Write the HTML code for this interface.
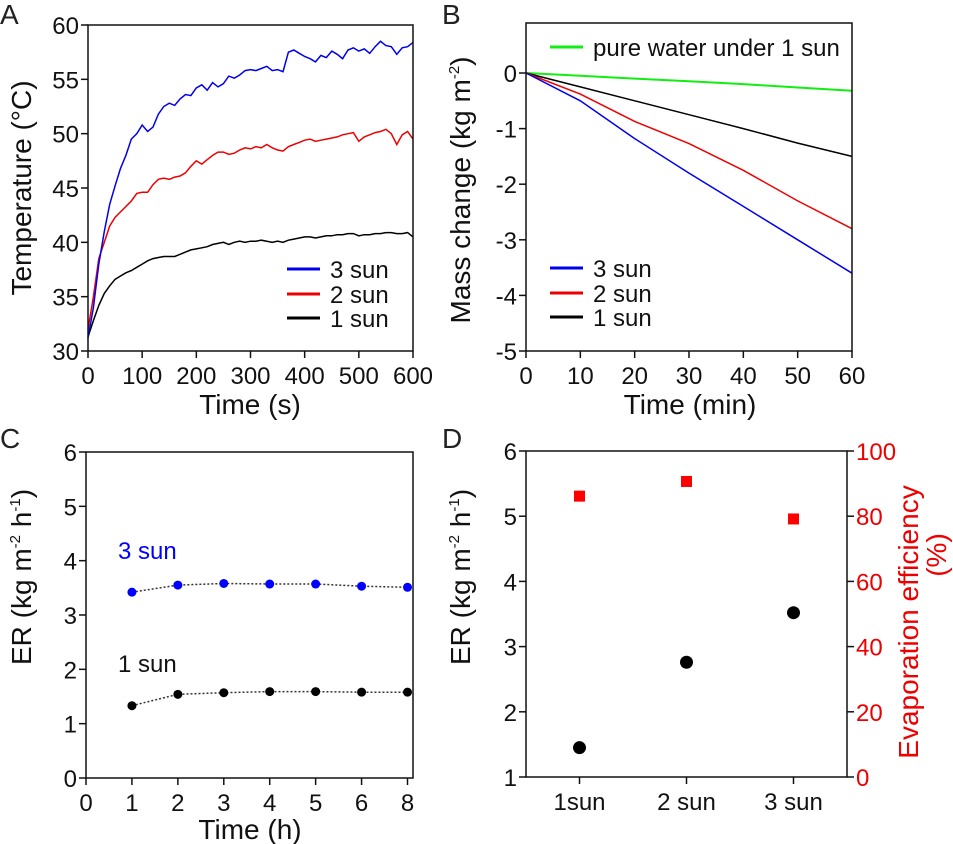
<!DOCTYPE html>
<html><head><meta charset="utf-8"><style>
body{margin:0;background:#fff}
svg{display:block;font-family:"Liberation Sans",Arial,sans-serif}
.t{font-size:24px;fill:#111}
.ti{font-size:28px;fill:#111}
.pl{font-size:28px;fill:#222}
</style></head><body>
<svg id="s" width="953" height="844" viewBox="0 0 953 844"></svg>
<script>
const aTimes=[0,10,20,30,40,50,60,70,80,90,100,110,120,130,140,150,160,170,180,190,200,210,220,230,240,250,260,270,280,290,300,310,320,330,340,350,360,370,380,390,400,410,420,430,440,450,460,470,480,490,500,510,520,530,540,550,560,570,580,590,600];
const aSun3=[31.2,34,38,41,43.5,45.2,46.8,48,49.5,50,50.8,50.2,50.6,51.8,52.5,52.8,52.6,53.2,53.6,53.5,54.2,54.5,54.0,54.7,54.3,54.6,55.3,55.1,55.4,55.8,55.9,55.8,56.0,56.2,55.8,55.9,55.7,57.5,57.7,57.4,57.1,56.9,56.6,57.2,57.0,57.6,57.3,56.9,57.7,57.9,57.6,57.8,57.4,58.0,58.5,58.1,58.0,57.3,57.9,58.0,58.4];
const aSun2=[32,35,38.5,40,41.5,42.3,42.8,43.3,43.8,44.5,44.6,44.6,45.3,45.8,45.9,45.8,46.0,46.1,46.4,47.0,47.5,47.2,47.6,48.0,48.3,48.3,48.1,48.2,48.5,48.7,48.6,48.8,48.7,49.0,48.7,48.5,48.4,48.8,49.0,49.2,49.4,49.5,49.3,49.4,49.5,49.6,49.7,49.9,50.0,50.1,49.3,49.7,49.9,50.1,50.2,50.4,50.0,49.0,49.9,50.2,49.5];
const aSun1=[31.3,32.8,34.2,35.3,36,36.6,36.9,37.2,37.4,37.7,38.0,38.3,38.5,38.6,38.7,38.7,38.7,38.9,39.1,39.3,39.4,39.5,39.6,39.8,39.9,40.0,39.8,40.0,40.1,40.0,40.1,40.1,40.2,40.1,40.0,40.1,40.0,40.2,40.3,40.4,40.5,40.5,40.4,40.5,40.6,40.6,40.7,40.7,40.8,40.8,40.6,40.7,40.7,40.8,40.8,40.9,40.9,40.8,40.8,40.9,40.5];
const aXTicks=[0,100,200,300,400,500,600];
const aYTicks=[30,35,40,45,50,55,60];
const bTimes=[0,10,20,30,40,50,60];
const bWater=[0,-0.05,-0.1,-0.15,-0.2,-0.26,-0.32];
const bSun1=[0,-0.25,-0.5,-0.75,-1.0,-1.26,-1.5];
const bSun2=[0,-0.38,-0.87,-1.27,-1.75,-2.3,-2.8];
const bSun3=[0,-0.5,-1.18,-1.8,-2.4,-3.0,-3.6];
const bXTicks=[0,10,20,30,40,50,60];
const bYTicks=[0,-1,-2,-3,-4,-5];
const cLabels=["0","1","2","3","4","5","6","8"];
const cSun3=[3.42,3.55,3.58,3.57,3.57,3.53,3.51];
const cSun1=[1.33,1.54,1.57,1.59,1.59,1.58,1.58];
const cYTicks=[0,1,2,3,4,5,6];
const dCats=["1sun","2 sun","3  sun"];
const dER=[1.45,2.76,3.52];
const dEff=[86,90.5,79];
const dYTicks=[1,2,3,4,5,6];
const dY2Ticks=[0,20,40,60,80,100];

const S=document.getElementById('s');const NS='http://www.w3.org/2000/svg';
function el(tag,at,txt){const e=document.createElementNS(NS,tag);for(const k in at)e.setAttribute(k,at[k]);if(txt!==undefined)e.textContent=txt;S.appendChild(e);return e;}
function lin(d0,d1,r0,r1){return v=>r0+(v-d0)/(d1-d0)*(r1-r0);}
function box(x0,y0,x1,y1,n){const e=el('rect',{x:x0,y:y0,width:x1-x0,height:y1-y0,fill:'none',stroke:'#111','stroke-width':1.5});

}
function xTicks(vals,fx,y,labels,n){vals.forEach((v,i)=>{const x=fx(v);const t=el('line',{x1:x,x2:x,y1:y,y2:y+7,stroke:'#111','stroke-width':1.5});


const l=el('text',{x:x,y:y+33,'text-anchor':'middle',class:'t'},labels?labels[i]:String(v));

});}
function yTicks(vals,fy,x,n,right,color){vals.forEach(v=>{const y=fy(v);const t=el('line',{x1:x,x2:right?x+7:x-7,y1:y,y2:y,stroke:'#111','stroke-width':1.5});


const l=el('text',{x:right?x+9:x-9,y:y+9,'text-anchor':right?'start':'end',class:'t',style:color?'fill:'+color:''},String(v));

});}
function path(xs,ys,fx,fy,color,n,w,dash){const d=xs.map((x,i)=>(i?'L':'M')+fx(x).toFixed(1)+','+fy(ys[i]).toFixed(1)).join('');
const p=el('path',{d:d,fill:'none',stroke:color,'stroke-width':w||1.5});if(dash)p.setAttribute('stroke-dasharray',dash);

}
function txt(x,y,s,cls,n,extra){const t=el('text',Object.assign({x:x,y:y,class:cls},extra||{}),s);

return t;}
function vtitle(x,y,html,n,color){const t=el('text',{x:0,y:0,transform:`translate(${x},${y}) rotate(-90)`,'text-anchor':'middle',class:'ti',style:color?'fill:'+color:''});t.innerHTML=html;

}
function legLine(x,y,color,label,n){const l=el('line',{x1:x,x2:x+33,y1:y,y2:y,stroke:color,'stroke-width':3});


txt(x+43,y+9,label,'t',n+'-label');}

// Panel A
{const fx=lin(0,600,88,413),fy=lin(30,60,351,25);
txt(0,24,'A','pl','panel-a-letter');
path(aTimes,aSun1,fx,fy,'#000','a-series-1-sun');
path(aTimes,aSun2,fx,fy,'#e00','a-series-2-sun');
path(aTimes,aSun3,fx,fy,'#00e','a-series-3-sun');
box(88,25,413,351,'a-plot-frame');
xTicks(aXTicks,fx,351,null,'a-x');yTicks(aYTicks,fy,88,'a-y');
txt(250,414,'Time (s)','ti','a-x-axis-title',{'text-anchor':'middle'});
vtitle(31,188,'Temperature (\u00B0C)','a-y-axis-title');
legLine(287,269,'#00e','3 sun','a-legend-3-sun');legLine(287,294,'#e00','2 sun','a-legend-2-sun');legLine(287,318,'#000','1 sun','a-legend-1-sun');}
// Panel B
{const fx=lin(0,60,526,852),fy=lin(0,-5,73,351);
txt(442,24,'B','pl','panel-b-letter');
path(bTimes,bWater,fx,fy,'#1e1','b-series-pure-water',2);
path(bTimes,bSun1,fx,fy,'#000','b-series-1-sun');
path(bTimes,bSun2,fx,fy,'#e00','b-series-2-sun');
path(bTimes,bSun3,fx,fy,'#00e','b-series-3-sun');
box(526,23,852,351,'b-plot-frame');
xTicks(bXTicks,fx,351,null,'b-x');yTicks(bYTicks,fy,526,'b-y');
txt(690,414,'Time (min)','ti','b-x-axis-title',{'text-anchor':'middle'});
vtitle(470,190,'Mass  change (kg m<tspan dy="-11" font-size="15">-2</tspan><tspan dy="11">)</tspan>','b-y-axis-title');
legLine(550,47,'#1e1','pure water under 1 sun','b-legend-pure-water');
legLine(550,268,'#00e','3 sun','b-legend-3-sun');legLine(550,293,'#e00','2 sun','b-legend-2-sun');legLine(550,317,'#000','1 sun','b-legend-1-sun');}
// Panel C
{const fx=lin(0,7,86,407.5),fy=lin(0,6,778,452);const xs=cSun3.map((_,i)=>i+1);
txt(0,448,'C','pl','panel-c-letter');
box(86,452,413,778,'c-plot-frame');
xTicks(cLabels.map((_,i)=>i),fx,778,cLabels,'c-x');yTicks(cYTicks,fy,86,'c-y');
path(xs,cSun3,fx,fy,'#333','c-line-3-sun',1.5,'2,2');path(xs,cSun1,fx,fy,'#333','c-line-1-sun',1.5,'2,2');
xs.forEach((x,i)=>{const a=el('circle',{cx:fx(x),cy:fy(cSun3[i]),r:4.5,fill:'#00f'});


const b=el('circle',{cx:fx(x),cy:fy(cSun1[i]),r:4.5,fill:'#000'});

});
txt(118,559,'3 sun','t','c-label-3-sun',{style:'fill:#00f'});txt(118,672,'1 sun','t','c-label-1-sun');
txt(250,839,'Time (h)','ti','c-x-axis-title',{'text-anchor':'middle'});
vtitle(31,577,'ER (kg m<tspan dy="-11" font-size="15">-2</tspan><tspan dy="11"> h</tspan><tspan dy="-11" font-size="15">-1</tspan><tspan dy="11">)</tspan>','c-y-axis-title');}
// Panel D
{const fx=lin(0,3,526,847),fy=lin(1,6,777,451),fy2=lin(0,100,777,451);
txt(442,448,'D','pl','panel-d-letter');
box(526,451,847,777,'d-plot-frame');
xTicks(dCats.map((_,i)=>i+0.5),fx,777,dCats,'d-x');yTicks(dYTicks,fy,526,'d-y');yTicks(dY2Ticks,fy2,847,'d-y2',true,'#e00');
dER.forEach((v,i)=>{const c=el('circle',{cx:fx(i+0.5),cy:fy(v),r:6.5,fill:'#000'});

});
dEff.forEach((v,i)=>{const r=el('rect',{x:fx(i+0.5)-5.5,y:fy2(v)-6,width:11,height:11,fill:'#f00'});

});
vtitle(470,577,'ER (kg m<tspan dy="-11" font-size="15">-2</tspan><tspan dy="11"> h</tspan><tspan dy="-11" font-size="15">-1</tspan><tspan dy="11">)</tspan>','d-y-axis-title');
vtitle(918,622,'Evaporation efficiency','d-y2-axis-title','#e00');
vtitle(946,555,'(%)','d-y2-axis-unit','#e00');}
</script>
</body></html>
